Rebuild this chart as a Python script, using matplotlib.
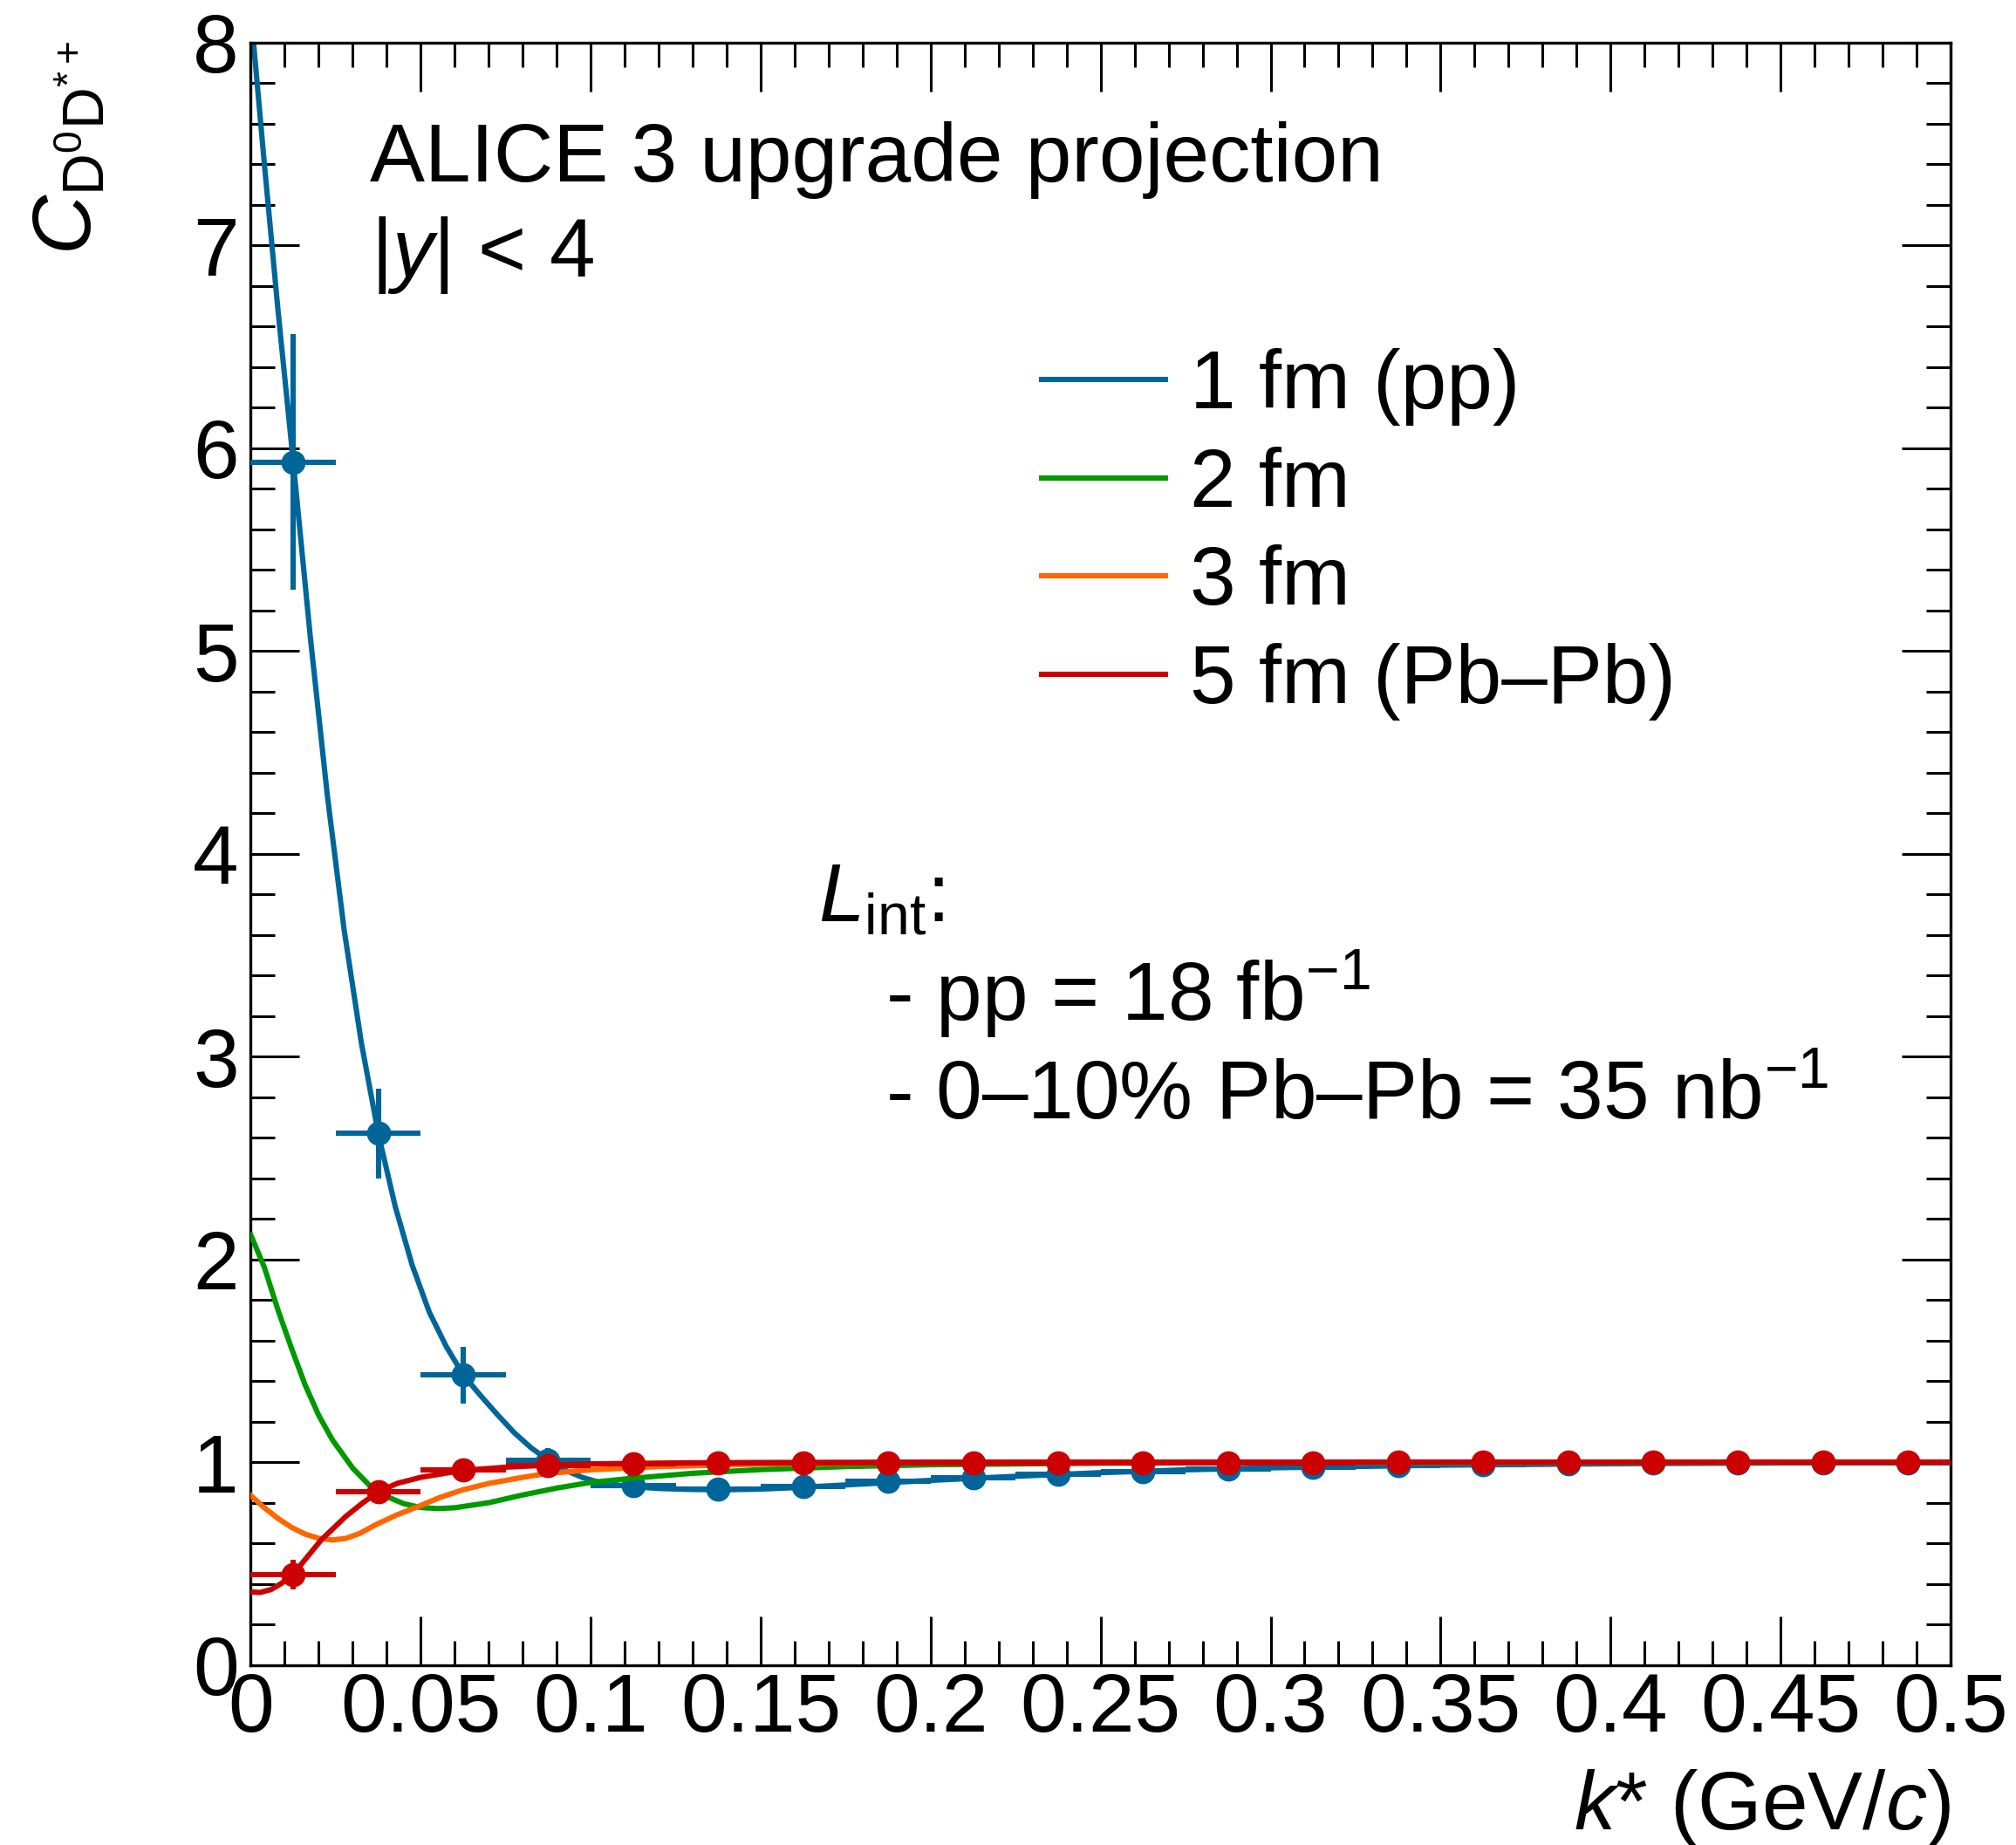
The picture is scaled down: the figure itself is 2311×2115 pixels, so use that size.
import numpy as np
import matplotlib
matplotlib.use("Agg")
import matplotlib.pyplot as plt
from matplotlib.ticker import MultipleLocator, FuncFormatter

plt.rcParams['font.family'] = 'Liberation Sans'
plt.rcParams['mathtext.fontset'] = 'custom'
plt.rcParams['mathtext.rm'] = 'Liberation Sans'
plt.rcParams['mathtext.it'] = 'Liberation Sans:italic'
plt.rcParams['mathtext.bf'] = 'Liberation Sans:bold'

# model curves C(k*) for different source radii
k_1fm = [0.0, 0.004, 0.008, 0.0125, 0.0175, 0.0225, 0.0275, 0.0325, 0.0375, 0.0425,
         0.0475, 0.0525, 0.0575, 0.0625, 0.0675, 0.0725, 0.0775, 0.0825, 0.0875, 0.0925,
         0.0975, 0.1025, 0.11, 0.12, 0.13, 0.14, 0.15, 0.16, 0.18, 0.2,
         0.225, 0.25, 0.275, 0.3, 0.35, 0.4, 0.45, 0.5]
c_1fm = [8.15, 7.40, 6.68, 5.93, 5.07, 4.29, 3.62, 3.07, 2.62, 2.26,
         1.97, 1.74, 1.57, 1.43, 1.33, 1.235, 1.145, 1.07, 1.01, 0.96,
         0.925, 0.90, 0.882, 0.87, 0.865, 0.864, 0.867, 0.874, 0.892, 0.91,
         0.93, 0.948, 0.962, 0.972, 0.985, 0.992, 0.996, 0.998]

k_2fm = [0.0, 0.004, 0.008, 0.012, 0.016, 0.02, 0.024, 0.03, 0.035, 0.04,
         0.045, 0.05, 0.055, 0.06, 0.07, 0.08, 0.09, 0.1, 0.112, 0.13,
         0.15, 0.175, 0.2, 0.25, 0.3, 0.5]
c_2fm = [2.12, 1.96, 1.75, 1.56, 1.38, 1.23, 1.11, 0.97, 0.884, 0.83,
         0.795, 0.776, 0.771, 0.775, 0.80, 0.838, 0.872, 0.90, 0.92, 0.945,
         0.963, 0.978, 0.987, 0.995, 0.998, 1.0]

k_3fm = [0.0, 0.004, 0.008, 0.012, 0.016, 0.02, 0.024, 0.028, 0.032, 0.0366,
         0.043, 0.0494, 0.0555, 0.0623, 0.07, 0.08, 0.0873, 0.1, 0.12, 0.15,
         0.2, 0.3, 0.5]
c_3fm = [0.835, 0.775, 0.722, 0.678, 0.645, 0.624, 0.616, 0.624, 0.648, 0.69,
         0.74, 0.782, 0.825, 0.863, 0.895, 0.925, 0.944, 0.962, 0.978, 0.99,
         0.997, 0.999, 1.0]

k_5fm = [0.0, 0.0027, 0.006, 0.009, 0.0122, 0.016, 0.0208, 0.028, 0.033, 0.0373,
         0.043, 0.05, 0.0623, 0.075, 0.0873, 0.1, 0.125, 0.15, 0.2, 0.5]
c_5fm = [0.36, 0.357, 0.372, 0.402, 0.442, 0.52, 0.618, 0.733, 0.80, 0.851,
         0.895, 0.925, 0.959, 0.975, 0.985, 0.991, 0.996, 0.998, 1.0, 1.0]

# projected measurements, 25 MeV/c bins
k_bins = np.arange(0.0125, 0.5, 0.025)
bin_half = 0.0125
c_pp = [5.93, 2.62, 1.43, 1.01, 0.883, 0.866, 0.882, 0.905, 0.925, 0.94,
        0.955, 0.965, 0.975, 0.982, 0.987, 0.991, 0.994, 0.996, 0.997, 0.998]
err_pp = [0.63, 0.22, 0.14, 0.06, 0.055, 0.04, 0.03, 0.025, 0.02, 0.02,
          0.015, 0.015, 0.01, 0.01, 0.01, 0.01, 0.01, 0.01, 0.01, 0.01]
c_pbpb = [0.445, 0.853, 0.960, 0.985, 0.992, 0.994, 0.995, 0.996, 0.997, 0.997,
          0.998, 0.998, 0.998, 0.999, 0.999, 0.999, 0.999, 0.999, 0.999, 0.999]
err_pbpb = [0.073, 0.055, 0.03, 0.02, 0.01, 0.01, 0.01, 0.01, 0.01, 0.01,
            0.01, 0.01, 0.01, 0.01, 0.01, 0.01, 0.01, 0.01, 0.01, 0.01]

labels = ['1 fm (pp)', '2 fm', '3 fm', '5 fm (Pb\u2013Pb)']
blue, green, orange, red = '#006699', '#009900', '#ff6600', '#cc0000'

fig = plt.figure(figsize=(23.11, 21.15), dpi=100)
ax = fig.add_axes([0.1244, 0.0976, 0.8431, 0.8794])

lw = 4.4
ms = 19
l1, = ax.plot(k_1fm, c_1fm, color=blue, lw=lw, zorder=2)
ax.errorbar(k_bins, c_pp, xerr=bin_half, yerr=err_pp, fmt='o', color=blue,
            ms=ms, elinewidth=lw, capsize=0, zorder=3)
l2, = ax.plot(k_2fm, c_2fm, color=green, lw=lw, zorder=4)
l3, = ax.plot(k_3fm, c_3fm, color=orange, lw=lw, zorder=4)
l5, = ax.plot(k_5fm, c_5fm, color=red, lw=lw, zorder=5)
ax.errorbar(k_bins, c_pbpb, xerr=bin_half, yerr=err_pbpb, fmt='o', color=red,
            ms=ms, elinewidth=lw, capsize=0, zorder=6)

ax.set_xlim(0, 0.5)
ax.set_ylim(0, 8)
ax.xaxis.set_major_locator(MultipleLocator(0.05))
ax.xaxis.set_minor_locator(MultipleLocator(0.01))
ax.yaxis.set_major_locator(MultipleLocator(1))
ax.yaxis.set_minor_locator(MultipleLocator(0.2))
ax.xaxis.set_major_formatter(FuncFormatter(lambda v, p: '%g' % round(v, 3)))
ax.yaxis.set_major_formatter(FuncFormatter(lambda v, p: '%g' % v))
ax.tick_params(which='both', direction='in', top=True, right=True, width=2.2)
ax.tick_params(which='major', length=40, labelsize=68)
ax.tick_params(which='minor', length=20)
ax.tick_params(axis='x', pad=5)
ax.tick_params(axis='y', pad=10)
for s in ax.spines.values():
    s.set_linewidth(2.4)

fs = 68
fig.text(0.0150, 0.9778, r'$C_{\mathrm{D^{0}D^{*+}}}$', rotation=90,
         ha='left', va='top', fontsize=fs)
fig.text(0.9675, 1 - 2097 / 2115, r'$k$* (GeV/$c$)', ha='right', va='baseline', fontsize=fs)

fig.text(0.1835, 1 - 208 / 2115, 'ALICE 3 upgrade projection', va='baseline', fontsize=fs)
fig.text(0.1840, 1 - 317 / 2115, r'|$y$| < 4', va='baseline', fontsize=fs)

fig.text(0.4059, 1 - 1057 / 2115, r'$L_{\mathrm{int}}$:', va='baseline', fontsize=fs)
fig.text(0.4390, 1 - 1169 / 2115, r'- pp = 18 fb$^{-1}$', va='baseline', fontsize=fs)
fig.text(0.4390, 1 - 1282 / 2115, '- 0\u201310% Pb\u2013Pb = 35 nb$^{-1}$',
         va='baseline', fontsize=fs)

ax.legend([l1, l2, l3, l5], labels, loc='upper left', bbox_to_anchor=(0.5167, 0.8113),
          bbox_transform=fig.transFigure, frameon=False, fontsize=fs,
          handlelength=1.5, handletextpad=0.3, labelspacing=0.25,
          borderpad=0, borderaxespad=0)

fig.savefig('out.png', dpi=100)
